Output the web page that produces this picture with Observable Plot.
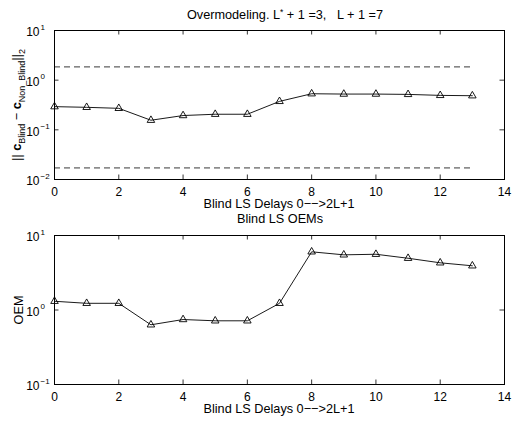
<!DOCTYPE html>
<html><head><meta charset="utf-8">
<script src="https://cdn.jsdelivr.net/npm/d3@7"></script>
<script src="https://cdn.jsdelivr.net/npm/@observablehq/plot@0.6"></script>
<style>
body{margin:0;background:#fff}
#fig{position:relative;width:512px;height:422px;background:#fff;font-family:"Liberation Sans",Arial,sans-serif}
#fig svg{position:absolute;left:0;overflow:visible}
</style>
</head><body><div id="fig"></div>
<script>
const delays = [0,1,2,3,4,5,6,7,8,9,10,11,12,13];
const coeffErr = [0.293,0.284,0.271,0.156,0.194,0.206,0.206,0.374,0.533,0.525,0.525,0.517,0.494,0.486];
const oem = [1.31,1.23,1.23,0.633,0.745,0.716,0.716,1.23,6.04,5.5,5.6,4.95,4.3,3.92];
const thresholds = [1.85, 0.0171];
const thresholdSpan = [0, 13];
const xTicks = [0,2,4,6,8,10,12,14];
const yTicksTop = [1e-2,1e-1,1,10];
const yTicksBottom = [1e-1,1,10];
const xLabel = "Blind LS Delays 0\u2212\u2212>2L+1";
const bottomTitle = "Blind LS OEMs";

const W = 512, ML = 54, MR = 8;
const fig = document.getElementById("fig");
const ff = "'Liberation Sans', Arial, sans-serif";
const tickFont = 12, labelFont = 12.7;

function panel({height, top, marginTop, marginBottom, yDomain, yTicks, values, extra = []}) {
  const H = height - marginTop - marginBottom;
  const IW = W - ML - MR;
  const tl = 4.5;
  const svg = Plot.plot({
    width: W, height, marginTop, marginBottom, marginLeft: ML, marginRight: MR,
    style: {fontSize: tickFont + "px", fontFamily: ff, background: "transparent", color: "#000"},
    x: {domain: [0, 14], axis: null},
    y: {type: "log", domain: yDomain, axis: null},
    marks: [
      ...extra,
      Plot.ruleX(xTicks, {x: d => d, insetTop: H - tl, stroke: "#000", strokeWidth: 0.8}),
      Plot.ruleX(xTicks, {x: d => d, insetBottom: H - tl, stroke: "#000", strokeWidth: 0.8}),
      Plot.ruleY(yTicks, {y: d => d, insetRight: IW - tl, stroke: "#000", strokeWidth: 0.8}),
      Plot.ruleY(yTicks, {y: d => d, insetLeft: IW - tl, stroke: "#000", strokeWidth: 0.8}),
      Plot.axisX({ticks: xTicks, tickSize: 0, tickPadding: 7.5, tickFormat: d => String(d), label: null, fontSize: tickFont}),
      Plot.text(yTicks, {y: d => d, frameAnchor: "left", text: () => "10", textAnchor: "end", dx: -15, dy: 2, fontSize: tickFont}),
      Plot.text(yTicks, {y: d => d, frameAnchor: "left", text: d => String(Math.round(Math.log10(d))).replace("-", "\u2212"), textAnchor: "start", dx: -14, dy: -3.5, fontSize: 8}),
      Plot.line(delays.map((d, i) => ({d, v: values[i]})), {x: "d", y: "v", stroke: "#000", strokeWidth: 0.9}),
      Plot.dot(delays.map((d, i) => ({d, v: values[i]})), {x: "d", y: "v", symbol: "triangle", r: 2.8, stroke: "#000", fill: "none", strokeWidth: 0.9}),
      Plot.frame({stroke: "#000", strokeWidth: 1})
    ]
  });
  svg.style.top = top + "px";
  fig.appendChild(svg);
  return d3.select(svg);
}

const topSvg = panel({
  height: 212, top: 0, marginTop: 30, marginBottom: 33,
  yDomain: [1e-2, 1e1], yTicks: yTicksTop, values: coeffErr,
  extra: [Plot.ruleY(thresholds, {y: d => d, x1: thresholdSpan[0], x2: thresholdSpan[1], stroke: "#222", strokeWidth: 0.9, strokeDasharray: "6,4"})]
});
const botSvg = panel({
  height: 210, top: 212, marginTop: 23, marginBottom: 38,
  yDomain: [1e-1, 1e1], yTicks: yTicksBottom, values: oem
});

function addText(sel, x, y, anchor, rotate) {
  const t = sel.append("text").attr("font-family", ff).attr("font-size", labelFont).attr("fill", "#000")
    .attr("text-anchor", anchor).style("white-space", "pre");
  if (rotate) t.attr("transform", `translate(${x},${y}) rotate(-90)`);
  else t.attr("x", x).attr("y", y);
  return t;
}
{
  const t = addText(topSvg, 285, 19, "middle");
  t.append("tspan").text("Overmodeling. L");
  t.append("tspan").attr("dy", -4.5).attr("font-size", 8.5).text("*");
  t.append("tspan").attr("dy", 4.5).text(" + 1 =3,   L + 1 =7");
}
addText(topSvg, 279, 208, "middle").text(xLabel);
{
  const t = addText(topSvg, 21, 105, "middle", true);
  t.append("tspan").text("|| ");
  t.append("tspan").attr("font-weight", "bold").text("c");
  t.append("tspan").attr("dy", 3.5).attr("font-size", 9).text("Blind");
  t.append("tspan").attr("dy", -3.5).text(" \u2212 ");
  t.append("tspan").attr("font-weight", "bold").text("c");
  t.append("tspan").attr("dy", 3.5).attr("font-size", 9).text("Non_Blind");
  t.append("tspan").attr("dy", -3.5).text("||");
  t.append("tspan").attr("dy", 3.5).attr("font-size", 9).text("2");
}
addText(botSvg, 280, 11, "middle").text(bottomTitle);
addText(botSvg, 279, 201, "middle").text(xLabel);
addText(botSvg, 23, 98, "middle", true).text("OEM");
</script>
</body></html>
